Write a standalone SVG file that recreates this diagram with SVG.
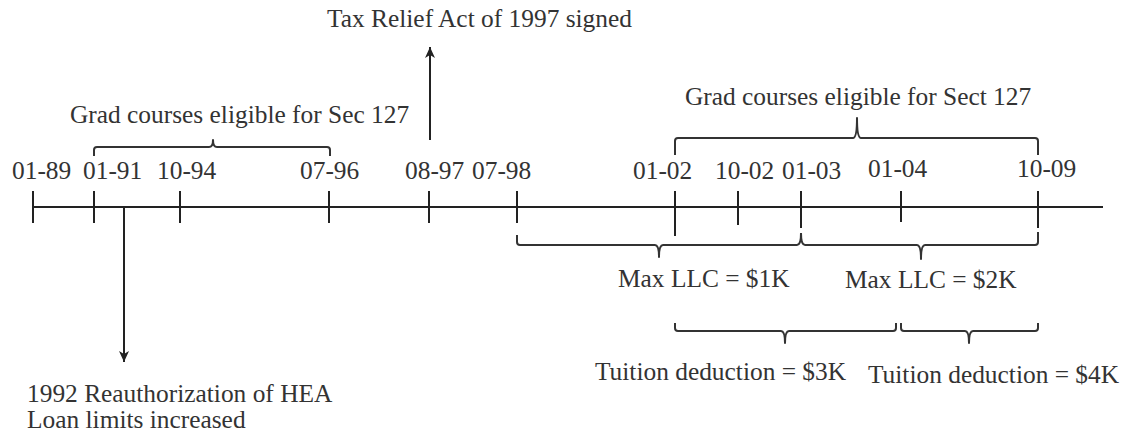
<svg xmlns="http://www.w3.org/2000/svg" width="1125" height="435" viewBox="0 0 1125 435">
<style>
text{font-family:"Liberation Serif","Times New Roman",serif;font-size:25.4px;fill:#333;}
.ln{stroke:#222;stroke-width:2;fill:none;}
.br{stroke:#333;stroke-width:2;fill:none;stroke-linejoin:round;}
</style>
<defs>
<marker id="ah" markerUnits="userSpaceOnUse" markerWidth="12" markerHeight="12" refX="11" refY="5" orient="auto">
<path d="M0,0 L11,5 L0,10 L3,5 z" fill="#222"/>
</marker>
</defs>
<rect width="1125" height="435" fill="#fff"/>

<g id="timeline">
<line class="ln" x1="33" y1="207" x2="1103" y2="207"/>
<line class="ln" x1="33" y1="191" x2="33" y2="223"/>
<line class="ln" x1="94" y1="191" x2="94" y2="223"/>
<line class="ln" x1="180" y1="191" x2="180" y2="223"/>
<line class="ln" x1="329" y1="191" x2="329" y2="223"/>
<line class="ln" x1="429" y1="191" x2="429" y2="223"/>
<line class="ln" x1="517" y1="191" x2="517" y2="223"/>
<line class="ln" x1="675" y1="191" x2="675" y2="236"/>
<line class="ln" x1="738" y1="191" x2="738" y2="225"/>
<line class="ln" x1="801" y1="191" x2="801" y2="228"/>
<line class="ln" x1="901" y1="191" x2="901" y2="222"/>
<line class="ln" x1="1038" y1="191" x2="1038" y2="228"/>
<text x="12" y="179">01-89</text>
<text x="83" y="179">01-91</text>
<text x="157" y="179">10-94</text>
<text x="300" y="179">07-96</text>
<text x="405" y="179">08-97</text>
<text x="472" y="179">07-98</text>
<text x="633" y="179">01-02</text>
<text x="715" y="179">10-02</text>
<text x="782" y="179">01-03</text>
<text x="868" y="177">01-04</text>
<text x="1017" y="177">10-09</text>
</g>

<g id="tax-relief">
<text x="327" y="27">Tax Relief Act of 1997 signed</text>
</g>

<g id="hea">
<text x="27" y="402">1992 Reauthorization of HEA</text>
<text x="27" y="428">Loan limits increased</text>
</g>

<g id="sec127-early">
<path class="br" d="M94,156 L94,150 Q94,147 97,147 L209,147 Q213,147 213,140 Q213,147 217,147 L327,147 Q330,147 330,150 L330,156"/>
<text x="70" y="123">Grad courses eligible for Sec 127</text>
</g>

<g id="sec127-late">
<path class="br" d="M675,155 L675,141 Q675,138 678,138 L853,138 Q857,138 857,118 Q857,138 861,138 L1035,138 Q1038,138 1038,141 L1038,155"/>
<text x="685" y="105">Grad courses eligible for Sect 127</text>
</g>

<g id="llc-1k">
<path class="br" d="M517,235 L517,242 Q517,245 520,245 L655,245 Q659,245 659,257 Q659,245 663,245 L797,245 Q801,245 801,233"/>
<text x="618" y="287">Max LLC = $1K</text>
</g>

<g id="llc-2k">
<path class="br" d="M801,233 Q801,245 805,245 L917,245 Q921,245 921,259 Q921,245 925,245 L1035,245 Q1038,245 1038,242 L1038,232"/>
<text x="845" y="288">Max LLC = $2K</text>
</g>

<g id="tuition-3k">
<path class="br" d="M675,323 L675,328 Q675,331 678,331 L781,331 Q785,331 785,343 Q785,331 789,331 L893,331 Q896,331 896,328 L896,323"/>
<text x="595" y="380">Tuition deduction = $3K</text>
</g>

<g id="tuition-4k">
<path class="br" d="M901,323 L901,328 Q901,331 904,331 L965,331 Q969,331 969,343 Q969,331 973,331 L1035,331 Q1038,331 1038,328 L1038,323"/>
<text x="868" y="383">Tuition deduction = $4K</text>
</g>

<g id="connectors">
<line class="ln" x1="430" y1="140" x2="430" y2="47" marker-end="url(#ah)"/>
<line class="ln" x1="124" y1="207" x2="124" y2="362" marker-end="url(#ah)"/>
</g>
</svg>
